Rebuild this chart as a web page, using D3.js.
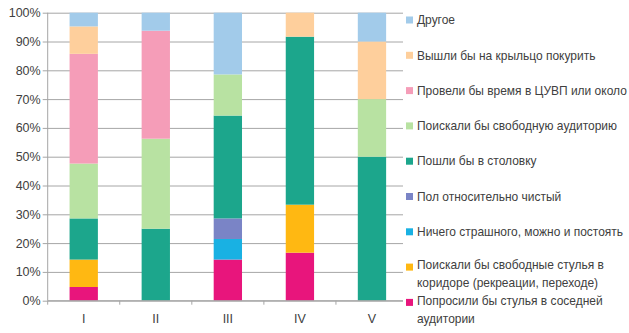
<html><head><title>Stacked 100% columns</title>
<style>
    body {
        margin: 0;
        padding: 0;
        background: #ffffff;
        font-family: 'Liberation Sans', Arial, sans-serif;
    }
    #chart text {
        fill: #404040;
    }
</style>
</head>
<body>
    <svg id="chart" width="629" height="333"></svg>

    <script src="https://d3js.org/d3.v7.min.js"></script>
    <script>
        const categories = ["I", "II", "III", "IV", "V"];
        const yTicks = [0, 10, 20, 30, 40, 50, 60, 70, 80, 90, 100];

        // series bottom -> top, percentages per category
        const seriesNames = [
            "Попросили бы стулья в соседней аудитории",
            "Поискали бы свободные стулья в коридоре (рекреации, переходе)",
            "Ничего страшного, можно и постоять",
            "Пол относительно чистый",
            "Пошли бы в столовку",
            "Поискали бы свободную аудиторию",
            "Провели бы время в ЦУВП или около",
            "Вышли бы на крыльцо покурить",
            "Другое"
        ];
        // legend text lines (wrapped as in the picture)
        const legendLines = [
            ["Попросили бы стулья в соседней", "аудитории"],
            ["Поискали бы свободные стулья в", "коридоре (рекреации, переходе)"],
            ["Ничего страшного, можно и постоять"],
            ["Пол относительно чистый"],
            ["Пошли бы в столовку"],
            ["Поискали бы свободную аудиторию"],
            ["Провели бы время в ЦУВП или около"],
            ["Вышли бы на крыльцо покурить"],
            ["Другое"]
        ];
        const popros   = [4.76, 0, 14.29, 16.67, 0];
        const stulya   = [9.52, 0, 0, 16.67, 0];
        const nichego  = [0, 0, 7.14, 0, 0];
        const pol      = [0, 0, 7.14, 0, 0];
        const stolovka = [14.29, 25, 35.71, 58.33, 50];
        const auditor  = [19.05, 31.25, 14.29, 0, 20];
        const tsuvp    = [38.10, 37.5, 0, 0, 0];
        const kurit    = [9.52, 0, 0, 8.33, 20];
        const drugoe   = [4.76, 6.25, 21.43, 0, 10];
        const seriesValues = [popros, stulya, nichego, pol, stolovka, auditor, tsuvp, kurit, drugoe];
        const colors = ["#e8157c", "#ffb812", "#19b1e3", "#7a84c6", "#1ca68c",
                        "#b8e2a2", "#f59db8", "#fecf9c", "#a2cbea"];

        const margin = {top: 12.7, left: 47.7, right: 221, bottom: 32.3};
        const W = 629, H = 333;
        const width = W - margin.left - margin.right;
        const height = H - margin.top - margin.bottom;

        const svg = d3.select("#chart");
        const g = svg.append("g").attr("transform", `translate(${margin.left},${margin.top})`);

        const x = d3.scaleBand().domain(categories).range([0, width])
            .paddingInner(0.607).paddingOuter(0.3035);
        const y = d3.scaleLinear().domain([0, 100]).range([height, 0]);

        // gridlines + y axis
        const yAxis = g.append("g")
            .call(d3.axisLeft(y).tickValues(yTicks).tickFormat(d => d + "%")
                .tickSize(-width - 5).tickPadding(7));
        yAxis.selectAll(".tick line").attr("stroke", "#a6a6a6").attr("x1", -5);
        yAxis.select(".domain").remove();
        yAxis.selectAll("text").style("font-size", "12.5px").attr("fill", "#595959");

        // stacked bars
        const table = categories.map((c, i) => {
            const row = {cat: c};
            seriesValues.forEach((s, k) => row["s" + k] = s[i]);
            return row;
        });
        const stack = d3.stack().keys(seriesValues.map((s, k) => "s" + k));
        const layers = stack(table);
        g.selectAll(".layer").data(layers).join("g")
            .attr("class", "layer")
            .attr("fill", (d, k) => colors[k])
            .selectAll("rect").data(d => d.filter(p => p[1] - p[0] > 0)).join("rect")
            .attr("x", d => x(d.data.cat))
            .attr("width", x.bandwidth())
            .attr("y", d => y(d[1]))
            .attr("height", d => y(d[0]) - y(d[1]));

        // y axis line
        g.append("line").attr("x1", 0).attr("x2", 0).attr("y1", 0).attr("y2", height)
            .attr("stroke", "#a6a6a6");

        // x axis
        const step = x.step();
        const xAxis = g.append("g").attr("transform", `translate(0,${height})`);
        xAxis.append("line").attr("x1", 0).attr("x2", width).attr("stroke", "#a6a6a6");
        xAxis.selectAll(".xt").data(d3.range(categories.length + 1)).join("line")
            .attr("class", "xt")
            .attr("x1", i => i * step).attr("x2", i => i * step)
            .attr("y1", 0).attr("y2", 4).attr("stroke", "#a6a6a6");
        xAxis.selectAll(".xl").data(categories).join("text")
            .attr("class", "xl")
            .attr("x", d => x(d) + x.bandwidth() / 2)
            .attr("y", 22)
            .attr("text-anchor", "middle")
            .attr("fill", "#595959")
            .style("font-size", "12.5px")
            .text(d => d);

        // legend (white box overlapping the plot edge)
        const legend = svg.append("g").attr("transform", "translate(403,0)");
        legend.append("rect").attr("x", 0).attr("y", 5).attr("width", 226).attr("height", 325)
            .attr("fill", "#fff");
        const order = d3.range(seriesNames.length).reverse();
        const item = legend.selectAll(".item").data(order).join("g")
            .attr("class", "item")
            .attr("transform", (k, i) => `translate(0,${20 + i * 35.3})`);
        item.append("rect").attr("x", 3).attr("y", -3.5).attr("width", 7).attr("height", 7)
            .attr("fill", k => colors[k]);
        item.each(function(k) {
            const lines = legendLines[k];
            const t = d3.select(this).append("text")
                .attr("class", "lg")
                .attr("x", 14)
                .attr("y", lines.length > 1 ? -2 : 0)
                .style("font-size", "12.5px");
            lines.forEach((l, j) => t.append("tspan").attr("x", 14).attr("dy", j ? 18 : "0.35em").text(l));
        });
        // shrink the legend font so the longest line fits before the right edge
        let maxW = 0;
        legend.selectAll("tspan").each(function() { maxW = Math.max(maxW, this.getComputedTextLength()); });
        const avail = 210;
        if (maxW > avail) {
            const fs = 12.5 * avail / maxW;
            legend.selectAll("text.lg").style("font-size", fs + "px");
        }
    </script>
</body>
</html>
